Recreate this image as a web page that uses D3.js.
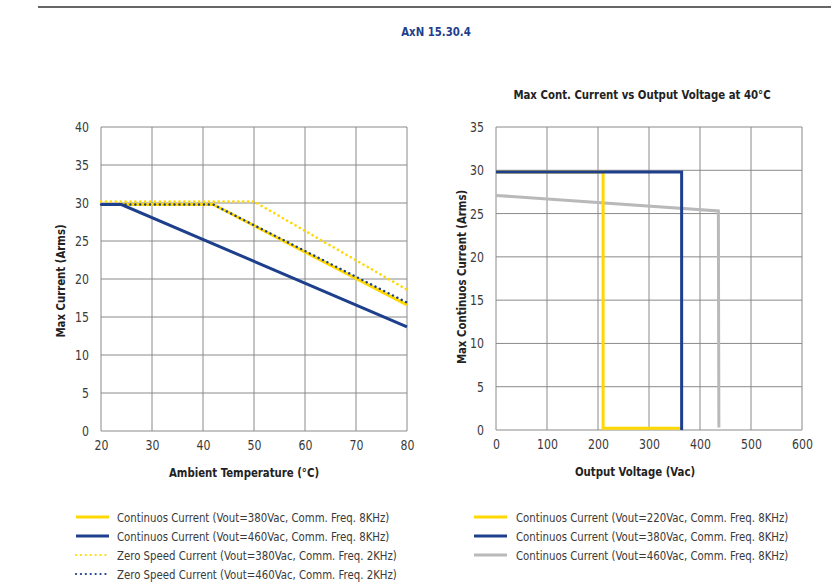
<!DOCTYPE html>
<html><head><meta charset="utf-8">
<script src="https://cdn.jsdelivr.net/npm/d3@7"></script>
<style>
body{margin:0;background:#fff;}
svg text{font-family:"DejaVu Sans Condensed","Liberation Sans Narrow","DejaVu Sans",sans-serif;font-stretch:condensed;}
</style></head><body>
<svg id="c" width="831" height="582"></svg>
<script>
// ---- Data ----
const leftXTicks = [20,30,40,50,60,70,80];
const leftYTicks = [0,5,10,15,20,25,30,35,40];
const rightXTicks = [0,100,200,300,400,500,600];
const rightYTicks = [0,5,10,15,20,25,30,35];

const contTemp380 = [[20,29.8],[42,29.8],[80,16.6]];
const contTemp460 = [[20,29.8],[24,29.8],[80,13.7]];
const zeroTemp380 = [[20,30.2],[50,30.2],[80,18.6]];
const zeroTemp460 = [[20,29.8],[42,29.8],[80,16.9]];

const contVolt220 = [[0,29.8],[210,29.8],[210,0.2],[362,0.2]];
const contVolt380 = [[0,29.8],[364,29.8],[364,0]];
const contVolt460 = [[0,27.1],[436,25.3],[437,0.3]];

const leftLegend = [
 "Continuos Current (Vout=380Vac, Comm. Freq. 8KHz)",
 "Continuos Current (Vout=460Vac, Comm. Freq. 8KHz)",
 "Zero Speed Current (Vout=380Vac, Comm. Freq. 2KHz)",
 "Zero Speed Current (Vout=460Vac, Comm. Freq. 2KHz)"];
const rightLegend = [
 "Continuos Current (Vout=220Vac, Comm. Freq. 8KHz)",
 "Continuos Current (Vout=380Vac, Comm. Freq. 8KHz)",
 "Continuos Current (Vout=460Vac, Comm. Freq. 8KHz)"];

// ---- Styles ----
const YEL="#FFD800", BLU="#1E3F8C", GRY="#B9B9BB";
const SX = 0.87;
const DOT = "0.1,4.8";
const svg = d3.select("#c");

function ctext(parent, x, y, str, rot){
  return parent.append("text")
    .attr("transform",`translate(${x},${y})${rot?" rotate(-90)":""} scale(${SX},1)`)
    .text(str);
}

svg.append("line").attr("x1",38).attr("x2",831).attr("y1",7).attr("y2",7)
  .attr("stroke","#666").attr("stroke-width",2);
ctext(svg,436,36,"AxN 15.30.4").attr("text-anchor","middle")
  .attr("font-size",13).attr("font-weight","bold").attr("fill",BLU);

function panel(cfg){
  const x = d3.scaleLinear().domain(cfg.xd).range([cfg.x0,cfg.x1]);
  const y = d3.scaleLinear().domain(cfg.yd).range([cfg.y1,cfg.y0]);
  const g = svg.append("g");
  g.selectAll(".vg").data(cfg.xt).join("line")
    .attr("x1",d=>x(d)).attr("x2",d=>x(d)).attr("y1",cfg.y0).attr("y2",cfg.y1)
    .attr("stroke","#8a8a8a").attr("stroke-width",1);
  g.selectAll(".hg").data(cfg.yt).join("line")
    .attr("x1",cfg.x0).attr("x2",cfg.x1).attr("y1",d=>y(d)).attr("y2",d=>y(d))
    .attr("stroke","#8a8a8a").attr("stroke-width",1);
  const ax = g.append("g").attr("transform",`translate(0,${cfg.y1})`)
    .call(d3.axisBottom(x).tickValues(cfg.xt).tickSize(0).tickPadding(9));
  const ay = g.append("g").attr("transform",`translate(${cfg.x0},0)`)
    .call(d3.axisLeft(y).tickValues(cfg.yt).tickSize(0).tickPadding(12));
  [ax,ay].forEach(a=>{a.select(".domain").remove();
    a.selectAll("text").attr("font-size",14).attr("fill","#3a3a3a")
     .attr("transform",`scale(${SX},1)`)
     .style("font-family",'"DejaVu Sans Condensed","Liberation Sans Narrow",sans-serif');});
  ay.selectAll("text").attr("x",-12/SX);
  ctext(g,cfg.xtx,cfg.y1+46,cfg.xtitle).attr("text-anchor","middle")
    .attr("font-size",13).attr("font-weight","bold").attr("fill","#222");
  ctext(g,cfg.ytx,cfg.yty,cfg.ytitle,true)
    .attr("text-anchor","middle").attr("font-size",13).attr("font-weight","bold")
    .attr("fill","#222");
  const line = d3.line().x(d=>x(d[0])).y(d=>y(d[1]));
  cfg.series.forEach(s=>{
    g.append("path").attr("d",line(s.data)).attr("fill","none")
      .attr("stroke",s.c).attr("stroke-width",s.w)
      .attr("stroke-dasharray",s.dash||null).attr("stroke-linecap",s.dash?"round":"butt");
  });
  return {x,y,g};
}

panel({xd:[20,80],yd:[0,40],x0:101,x1:407,y0:127,y1:431,xt:leftXTicks,yt:leftYTicks,
  xtitle:"Ambient Temperature (°C)",xtx:244,ytitle:"Max Current (Arms)",ytx:65,yty:281,
  series:[
   {data:zeroTemp380,c:YEL,w:2.6,dash:DOT},
   {data:contTemp380,c:YEL,w:3},
   {data:contTemp460,c:BLU,w:3},
   {data:zeroTemp460,c:BLU,w:2.4,dash:DOT}
  ]});

panel({xd:[0,600],yd:[0,35],x0:496,x1:802,y0:127,y1:430,xt:rightXTicks,yt:rightYTicks,
  xtitle:"Output Voltage (Vac)",xtx:635,ytitle:"Max Continuos Current (Arms)",ytx:466,yty:277,
  series:[
   {data:contVolt460,c:GRY,w:3},
   {data:contVolt220,c:YEL,w:3},
   {data:contVolt380,c:BLU,w:3}
  ]});

ctext(svg,642,99,"Max Cont. Current vs Output Voltage at 40°C").attr("text-anchor","middle")
  .attr("font-size",13).attr("font-weight","bold").attr("fill","#222");

function legend(items, styles, lx, tx, y0){
  const g = svg.append("g");
  items.forEach((t,i)=>{
    const yy = y0 + i*19;
    const s = styles[i];
    g.append("line").attr("x1",lx).attr("x2",lx+33).attr("y1",yy).attr("y2",yy)
      .attr("stroke",s.c).attr("stroke-width",s.dash?2.2:3)
      .attr("stroke-dasharray",s.dash||null).attr("stroke-linecap",s.dash?"round":"butt");
    ctext(g,tx,yy+4.5,t).attr("font-size",13).attr("fill","#3a3a3a");
  });
}
legend(leftLegend,[{c:YEL},{c:BLU},{c:YEL,dash:DOT},{c:BLU,dash:DOT}],76,117,517);
legend(rightLegend,[{c:YEL},{c:BLU},{c:GRY}],474,516,517);
</script></body></html>
